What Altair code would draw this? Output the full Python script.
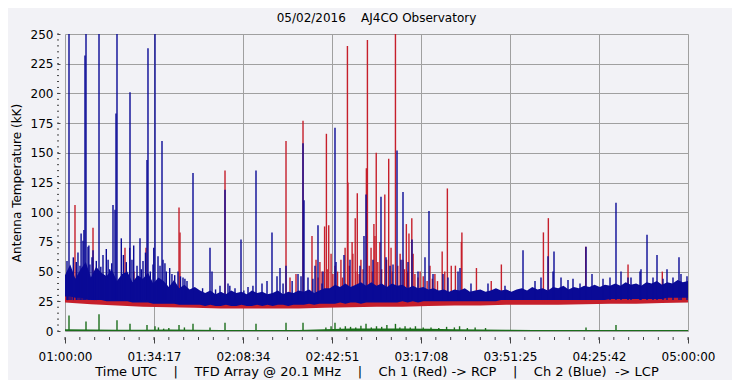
import altair as alt
import pandas as pd

# ---------------- text ----------------
NB = "\u00a0"
TITLE = "05/02/2016" + NB * 4 + "AJ4CO Observatory"
Y_TITLE = "Antenna Temperature (kK)"
SEP = NB * 4 + "|" + NB * 4
X_TITLE = ("Time UTC" + SEP + "TFD Array @ 20.1 MHz" + SEP +
           "Ch 1 (Red) -> RCP" + SEP + "Ch 2 (Blue)" + NB * 2 + "-> LCP")

# ---------------- axes ----------------
# minutes after 01:00:00 UTC
tick_minutes = [0, 34.2857, 68.5714, 102.8571, 137.1429, 171.4286, 205.7143, 240]
tick_labels = ["01:00:00", "01:34:17", "02:08:34", "02:42:51",
               "03:17:08", "03:51:25", "04:25:42", "05:00:00"]
minor_x = [round(i * 240 / 42, 4) for i in range(43)]
y_ticks = list(range(0, 251, 25))
minor_y = list(range(0, 251, 5))

# ---------------- data ----------------
# Ch 2 (blue) dense noise band, sampled every 2 minutes
blue_minutes = list(range(0, 241, 2))
blue_hi = [47, 56, 44, 52, 58, 45, 54, 49,
           46, 52, 42, 48, 50, 41, 47, 44, 49, 40, 45,
           42, 37, 43, 36, 39, 35, 37, 34,
           32, 34, 31, 33, 31, 34, 32, 33, 31, 34, 32, 33, 31, 32, 34, 31, 33, 32, 34, 33, 35, 32, 34, 36,
           36, 39, 37, 40, 37, 39, 41, 38, 41, 38, 40, 37, 40, 38, 39, 36, 38, 36, 37, 35,
           36, 34, 35, 33, 35, 34, 36, 33, 34, 35, 33, 34, 36, 34, 35, 33, 35,
           36, 34, 37, 35, 36, 34, 37, 36, 38, 35, 37, 36, 38, 37, 39,
           37, 39, 38, 40, 38, 41, 39, 40, 38, 41, 40, 42, 39, 41, 40, 43, 41, 42]
blue_lo = [29, 29, 28, 28, 27, 26, 26, 26, 25, 25, 25,
           25, 25, 24, 24, 24, 24, 23, 23, 23, 23, 23, 22, 22, 22, 22,
           22, 21, 22, 21, 21, 22, 21, 21, 22, 21, 21, 22, 21, 22, 21, 22, 22, 21, 22, 22, 22, 23, 22, 23, 23,
           23, 23, 24, 23, 24, 24, 23, 24, 24, 24, 24, 24, 24, 24, 25, 24, 25, 24, 25, 25, 25, 25,
           25, 25, 25, 25, 25, 25, 25, 25, 25, 25, 25, 26, 26, 26, 26, 26, 26, 26, 26, 26, 26, 26, 26,
           26, 26, 26, 26, 26, 26, 26, 26, 26, 27, 27, 27, 27, 27, 27, 27, 27, 27, 27, 27, 28, 28, 28, 28, 28]

# Ch 1 (red) band and green trace floor, sampled every 10 minutes
coarse_minutes = list(range(0, 241, 10))
red_lo = [24, 22.5, 21.5, 20.5, 20, 19.5, 19, 19, 19, 19, 19.5, 20, 20.5,
          20.5, 21, 21.5, 21.5, 22, 22, 22, 22.5, 23, 23, 23.5, 24]
red_hi = [31.5, 28.5, 27.5, 26.5, 25.5, 24.5, 25, 25, 25, 25, 25.5, 26.5, 26.5,
          26.5, 27.5, 27.5, 27.5, 28.5, 28.5, 28.5, 28.5, 29.5, 29.5, 30.5, 30.5]
green_hi = [1.5, 1.2, 1.0, 1.0, 1.2, 1.0, 0.8, 0.8, 0.8, 0.8, 1.5, 2.0, 2.2,
            2.0, 1.8, 1.5, 1.2, 1.0, 0.8, 0.8, 0.8, 0.8, 0.8, 0.8, 0.8]

# spikes: (minute, kK)
blue_spikes = [
    (1.54, 260), (7.70, 232), (8.09, 260), (13.10, 260), (18.49, 106), (19.26, 102),
    (19.65, 183), (20.03, 260), (25.04, 201), (28.89, 78), (31.59, 144), (31.97, 238),
    (34.67, 260), (37.37, 160), (49.31, 133), (55.86, 70), (61.64, 119), (62.79, 40),
    (67.80, 77), (73.58, 135), (79.74, 83), (82.82, 53), (85.14, 55), (91.69, 158),
    (92.07, 110), (97.46, 89), (104.01, 171), (107.48, 64), (115.18, 80), (115.96, 115),
    (121.73, 113), (125.20, 55), (127.90, 152), (130.21, 117), (133.68, 77), (138.68, 62),
    (140.22, 101), (152.17, 53), (176.44, 68), (186.07, 63), (188.38, 67), (193.77, 43),
    (200.71, 71), (203.02, 48), (212.26, 108), (216.89, 45), (221.89, 52), (224.21, 81),
    (228.06, 64), (231.91, 52), (236.53, 62), (239.61, 46),
    # early burst region
    (0.77, 59), (1.0, 48), (2.31, 52), (3.2, 62), (4.35, 58), (5.0, 66), (5.78, 55),
    (6.2, 82), (6.93, 76), (7.3, 85), (8.86, 71), (9.2, 72), (9.6, 56), (10.40, 62),
    (10.8, 68), (11.3, 50), (12.06, 59), (13.8, 54), (14.64, 64), (15.91, 69), (16.6, 60),
    (17.22, 52), (18.0, 57), (21.69, 78), (22.5, 64), (23.62, 58), (24.92, 70),
    (25.8, 60), (26.47, 72), (27.74, 55), (29.4, 52), (30.05, 59), (31.0, 66),
    (32.86, 50), (33.90, 56), (34.2, 70), (35.83, 63), (36.6, 55), (37.75, 60),
    (38.5, 57), (39.02, 50), (40.33, 53), (41.2, 48), (42.26, 47), (43.53, 50),
    (44.5, 46), (45.46, 45), (46.2, 44), (47.00, 42),
    # quiet middle
    (53.0, 36), (56.63, 50), (58.0, 35), (59.71, 38), (63.5, 38), (65.49, 36), (68.9, 34),
    (70.50, 37), (72.4, 38), (75.89, 40), (77.82, 42), (81.67, 46), (84.0, 40),
    (87.5, 42), (89.76, 48), (90.92, 46), (93.61, 45), (95.5, 44), (99.0, 40),
    # second burst region
    (96.31, 55), (99.39, 50), (104.40, 58), (109.79, 60), (113.64, 55), (118.65, 60),
    (123.66, 62), (126.36, 56), (129.44, 60), (132.14, 58), (135.99, 50), (141.77, 48),
    (145.62, 48), (147.54, 45), (151.40, 50), (156.40, 40), (162.95, 40), (169.50, 38),
    (181.06, 42), (183.37, 45), (188.00, 50), (191.08, 45), (195.70, 44), (198.40, 40),
    (207.26, 44), (209.95, 45), (214.19, 50), (218.04, 45), (221.51, 50), (226.52, 45),
    (230.37, 44), (234.22, 45), (237.30, 48),
]
red_spikes = [
    (3.85, 106), (10.79, 87), (23.11, 70), (26.58, 50), (31.20, 70), (43.92, 104),
    (44.30, 83), (61.64, 135), (85.14, 160), (86.68, 45), (88.99, 48), (91.69, 177),
    (95.15, 80), (100.0, 88), (100.7, 166), (101.6, 89), (108.8, 240), (109.0, 125),
    (110.6, 75), (111.8, 95), (112.6, 116), (116.1, 137), (116.5, 245), (119.0, 90),
    (119.9, 150), (123.2, 115), (124.7, 145), (127.3, 260), (131.5, 90), (132.5, 82),
    (133.6, 95),
    (96.7, 60), (98.2, 58), (102.5, 65), (104.0, 55), (106.3, 60), (107.9, 70),
    (110.9, 65), (114.0, 60), (117.9, 70), (119.4, 80), (121.3, 75), (125.6, 70),
    (129.1, 65), (130.2, 60), (134.1, 65), (136.8, 50), (140.6, 55), (142.5, 48),
    (97.5, 45), (99.0, 50), (101.0, 52), (103.2, 48), (105.0, 50), (106.9, 45),
    (109.5, 55), (112.0, 50), (113.3, 48), (114.8, 52), (117.2, 55), (118.3, 50),
    (120.5, 58), (122.0, 52), (123.9, 60), (126.0, 50), (128.2, 55), (130.8, 52),
    (132.0, 50), (134.8, 48), (136.0, 45), (138.0, 46), (139.5, 42), (141.5, 44),
    (143.5, 42),
    (145.3, 67), (146.3, 50), (147.3, 120), (148.8, 55), (150.4, 55), (152.7, 75),
    (152.9, 83), (158.5, 53), (164.2, 42), (168.1, 56), (184.3, 83), (186.2, 95),
    (200.6, 71), (216.9, 56), (230.1, 50),
]
green_spikes = [
    (1.54, 13), (8.09, 8), (13.10, 14), (20.03, 9), (25.04, 6), (31.59, 5), (34.67, 4),
    (36.0, 3), (38.0, 2), (40.0, 2.5), (43.92, 5), (46.0, 3), (49.31, 6), (55.86, 3),
    (61.64, 7), (73.58, 6), (85.14, 7), (91.69, 7),
    (100.5, 3), (102.5, 4), (104.01, 7), (106.0, 3), (108.0, 4), (110.0, 3.5), (112.0, 3),
    (114.0, 4.5), (115.96, 6), (118.0, 3), (120.0, 4), (122.0, 3.5), (124.0, 5),
    (127.3, 6), (129.0, 3), (131.0, 4), (133.0, 3), (135.0, 4), (138.0, 3), (141.0, 3),
    (144.0, 2.5), (147.0, 3.5), (150.0, 3), (152.0, 4), (155.0, 2.5), (158.0, 3),
    (162.0, 2.5), (200.71, 3), (212.26, 5),
]

# ---------------- frames ----------------
blue_df = pd.DataFrame({"minute": blue_minutes, "lo": blue_lo, "hi": blue_hi})
coarse_df = pd.DataFrame({"minute": coarse_minutes, "rlo": red_lo, "rhi": red_hi,
                          "ghi": green_hi})
bs_df = pd.DataFrame(blue_spikes, columns=["minute", "value"])
rs_df = pd.DataFrame(red_spikes, columns=["minute", "value"])
gs_df = pd.DataFrame(green_spikes, columns=["minute", "value"])
mx_df = pd.DataFrame({"minute": minor_x})
my_df = pd.DataFrame({"value": minor_y})

RED = "#c61f2b"
BLUE = "#0a0a96"
GREEN = "#1b6e1b"
GRID = "#a0a0a0"
TICK = "#444444"
FONT = "DejaVu Sans"

xs = alt.Scale(domain=[0, 240], nice=False, zero=False)
ys = alt.Scale(domain=[0, 250], nice=False, zero=False)

label_expr = "[" + ",".join("'%s'" % s for s in tick_labels) + "][round(datum.value * 7 / 240)]"

x_axis = alt.Axis(values=tick_minutes, labelExpr=label_expr, grid=True, gridColor=GRID,
                  gridWidth=1, gridOpacity=1, tickSize=6, tickColor=TICK, domain=False,
                  offset=6, labelPadding=8, labelFontSize=12, labelFont=FONT,
                  labelColor="black", labelFlush=False, labelOverlap=False,
                  titleFontSize=13, titleFont=FONT, titleFontWeight="normal",
                  titleColor="black", titlePadding=3)
y_axis = alt.Axis(values=y_ticks, grid=True, gridColor=GRID, gridWidth=1, gridOpacity=1,
                  tickSize=3, tickColor=TICK, domain=False, offset=5, labelPadding=4,
                  labelFontSize=12, labelFont=FONT, labelColor="black",
                  labelOverlap=False, labelFlush=False, labelBound=False,
                  titleFontSize=12, titleFont=FONT, titleFontWeight="normal",
                  titleColor="black", titlePadding=7)


def X(field="minute:Q"):
    return alt.X(field, scale=xs, axis=x_axis, title=X_TITLE)


def Y(field):
    return alt.Y(field, scale=ys, axis=y_axis, title=Y_TITLE)


red_area = alt.Chart(coarse_df).mark_area(color=RED, opacity=1).encode(
    x=X(), y=Y("rlo:Q"), y2="rhi:Q",
)
red_sp = alt.Chart(rs_df).mark_rule(color=RED, strokeWidth=1.4, clip=True).encode(
    x=X(), y=Y("value:Q"), y2=alt.datum(24),
)
blue_area = alt.Chart(blue_df).mark_area(color=BLUE, opacity=1).encode(
    x=X(), y=Y("lo:Q"), y2="hi:Q",
)
blue_sp = alt.Chart(bs_df).mark_rule(color=BLUE, strokeWidth=1.4, clip=True).encode(
    x=X(), y=Y("value:Q"), y2=alt.datum(26),
)
green_area = alt.Chart(coarse_df).mark_area(color=GREEN, opacity=1).encode(
    x=X(), y=Y("ghi:Q"), y2=alt.datum(0),
)
green_sp = alt.Chart(gs_df).mark_rule(color=GREEN, strokeWidth=1.4).encode(
    x=X(), y=Y("value:Q"), y2=alt.datum(0),
)
minor_x_ticks = alt.Chart(mx_df).mark_rule(color=TICK, strokeWidth=1).encode(
    x=X(), y=alt.value(303), y2=alt.value(306),
)
minor_y_ticks = alt.Chart(my_df).mark_rule(color=TICK, strokeWidth=1).encode(
    y=Y("value:Q"), x=alt.value(-8), x2=alt.value(-6),
)

chart = alt.layer(
    red_area, red_sp, blue_area, blue_sp, green_area, green_sp,
    minor_x_ticks, minor_y_ticks
).properties(
    width=623,
    height=297,
    title=alt.TitleParams(text=TITLE, fontSize=12, font=FONT, fontWeight="normal",
                          color="black", anchor="middle", offset=3),
    padding={"left": 57, "top": 26, "right": 44, "bottom": 49},
    autosize=alt.AutoSizeParams(type="none"),
    background="#f2f2f6",
).configure_view(stroke="transparent").configure(font=FONT)

chart.save("out.html", embed_options={"renderer": "svg", "actions": False})
